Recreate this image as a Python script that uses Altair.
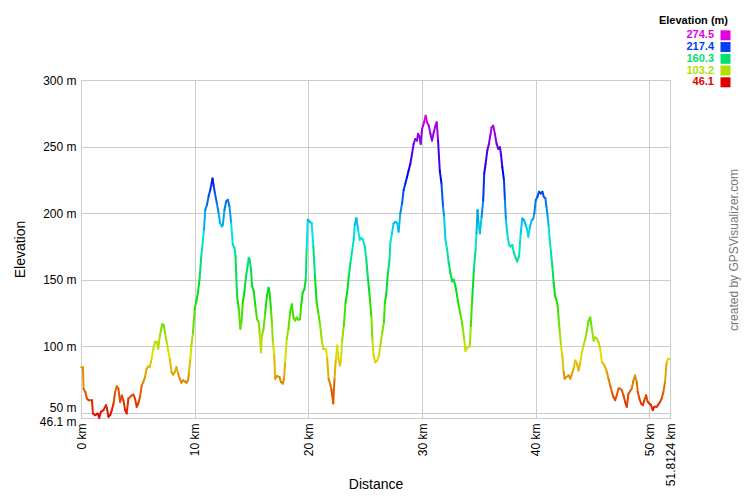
import altair as alt
import pandas as pd

km = [0.0, 0.17, 0.23, 0.38, 0.52, 0.67, 0.96, 1.05, 1.25, 1.46, 1.60, 1.75, 1.98, 2.19, 2.27, 2.42, 2.57, 2.71,
      2.86, 3.00, 3.15, 3.29, 3.44, 3.59, 3.73, 3.88, 4.02, 4.17, 4.46, 4.61, 4.75, 4.90, 5.04, 5.19, 5.34, 5.48,
      5.63, 5.77, 5.92, 6.06, 6.21, 6.36, 6.50, 6.65, 6.79, 6.94, 7.08, 7.17, 7.29, 7.38, 7.52, 7.67, 7.81, 7.96,
      8.10, 8.25, 8.40, 8.54, 8.69, 8.83, 8.98, 9.13, 9.27, 9.42, 9.50, 9.62, 9.71, 9.85, 10.00, 10.15, 10.29,
      10.44, 10.58, 10.73, 10.82, 10.93, 11.08, 11.22, 11.37, 11.49, 11.57, 11.66, 11.78, 11.95, 12.10, 12.24,
      12.39, 12.48, 12.62, 12.77, 12.92, 13.06, 13.21, 13.35, 13.50, 13.59,
      13.73, 13.88, 14.02, 14.11, 14.23, 14.37, 14.52, 14.66, 14.75, 14.84, 14.96, 15.04, 15.19, 15.34, 15.48,
      15.63, 15.71, 15.83, 15.92, 16.06, 16.21, 16.36, 16.50, 16.59, 16.71, 16.79, 16.88, 17.00, 17.08, 17.23,
      17.46, 17.58, 17.76, 17.87, 17.96, 18.10, 18.25, 18.40, 18.54, 18.69, 18.83, 18.98, 19.13, 19.27, 19.36,
      19.50, 19.65, 19.77, 19.85, 19.94, 20.06, 20.29, 20.44, 20.58, 20.73, 20.87, 21.02, 21.17, 21.31, 21.55,
      21.66, 21.78, 21.95, 22.04, 22.19, 22.30, 22.42, 22.54, 22.65, 22.77, 22.86, 22.97, 23.12, 23.27, 23.41,
      23.56, 23.70, 23.85, 23.99, 24.08, 24.23, 24.37, 24.52, 24.66, 24.81, 24.96, 25.10, 25.25, 25.39, 25.54,
      25.63, 25.74, 25.89, 26.06, 26.21, 26.33, 26.50, 26.65, 26.73, 26.85, 27.00, 27.14,
      27.21, 27.35, 27.50, 27.68, 27.82, 27.94, 28.09, 28.24, 28.38, 28.53, 28.68, 28.82, 28.97, 29.12, 29.26,
      29.41, 29.56, 29.65, 29.79, 29.88, 30.00, 30.18, 30.32, 30.44, 30.59, 30.74, 30.88, 31.03, 31.18, 31.29,
      31.41, 31.56, 31.71, 31.85, 31.94, 32.06, 32.21, 32.35, 32.50, 32.65, 32.79, 32.94, 33.09, 33.24, 33.41,
      33.56, 33.71, 33.82, 34.00, 34.21, 34.29, 34.41, 34.56, 34.71, 34.79, 34.88, 34.97, 35.09, 35.24, 35.38,
      35.47, 35.59, 35.74, 35.88, 36.03, 36.12, 36.26, 36.41, 36.56, 36.71, 36.85, 36.94, 37.06, 37.21, 37.29,
      37.38, 37.50, 37.65, 37.79, 37.94, 38.09, 38.24, 38.38, 38.53, 38.68, 38.82, 38.97, 39.12, 39.26, 39.35,
      39.50, 39.65, 39.79, 39.88, 40.00, 40.15, 40.29, 40.44, 40.59,
      40.70, 40.85, 40.94, 41.05, 41.14, 41.23, 41.35, 41.46, 41.58, 41.70, 41.81, 41.93, 42.02, 42.11, 42.22,
      42.34, 42.46, 42.54, 42.69, 42.89, 43.04, 43.19, 43.33, 43.48, 43.63, 43.77, 43.92, 44.06, 44.21, 44.36,
      44.50, 44.65, 44.80, 44.94, 45.09, 45.23, 45.38, 45.53, 45.67, 45.82, 45.96, 46.11, 46.26, 46.40, 46.55,
      46.70, 46.84, 46.99, 47.13, 47.28, 47.43, 47.57, 47.72, 47.87, 48.01, 48.16, 48.30, 48.45, 48.60, 48.74,
      48.89, 48.98, 49.12, 49.27, 49.42, 49.56, 49.71, 49.85, 50.00, 50.15, 50.29, 50.44, 50.64, 50.79, 50.94,
      51.08, 51.23, 51.37, 51.52, 51.64, 51.8124]
elev = [84.3, 84.3, 68.0, 65.6, 60.7, 59.5, 59.5, 49.5, 48.3, 49.5, 46.3, 50.7, 52.0, 55.7, 53.7, 47.0, 48.3, 52.0,
        57.0, 65.6, 70.0, 68.0, 58.2, 63.0, 59.5, 52.0, 49.5, 60.7, 63.0, 63.7, 60.7, 54.5, 57.0, 62.0, 70.6, 73.1,
        76.9, 83.0, 85.0, 84.3, 90.5, 98.0, 103.0, 103.5, 98.0, 108.0, 114.0, 116.7, 115.4, 110.4, 104.0, 96.8,
        90.5, 80.6, 78.6, 80.6, 84.3, 79.5, 75.6, 72.6, 74.4, 73.7, 72.6, 74.4, 80.6, 90.5, 100.5, 110.4, 127.9,
        134.0, 140.3, 151.5, 167.7, 180.0, 187.6, 202.5, 206.2, 212.4, 217.4, 222.4, 226.0, 221.0, 215.0, 207.5,
        200.0, 192.5, 190.0, 191.3, 202.5, 208.7, 210.0, 205.0, 192.5, 176.4, 173.9, 167.7,
        137.8, 127.9, 113.0, 118.0, 132.8, 140.3, 152.7, 160.2, 166.4, 165.0, 157.7, 145.5, 141.5, 130.3, 120.4,
        118.0, 110.4, 95.5, 108.0, 113.0, 125.4, 137.8, 144.0, 140.3, 127.9, 118.0, 103.0, 93.0, 75.6, 77.6,
        76.9, 73.1, 71.9, 76.9, 88.0, 105.5, 113.0, 125.4, 131.6, 121.6, 119.3, 121.6, 119.8, 120.4, 130.3,
        140.3, 142.8, 150.2, 172.6, 195.0, 194.0, 192.5, 175.0, 152.7, 132.8, 125.4, 116.7, 105.5, 98.0, 98.0,
        90.5, 75.6, 70.6, 66.9, 57.0, 75.6, 90.5, 100.5, 90.5, 85.5, 89.0, 104.0, 115.4, 132.8, 140.3,
        152.7, 162.7, 171.4, 180.0, 191.3, 196.3, 187.6, 180.0, 181.3, 180.0, 175.1, 165.0, 150.2, 137.8, 122.9,
        105.5, 93.0, 88.0, 89.3, 93.0, 100.5, 110.4, 118.0, 132.8, 139.0, 155.2, 165.0,
        177.4, 184.8, 192.3, 193.5, 192.3, 186.0, 199.8, 207.2, 217.2, 222.1, 227.1, 232.1, 237.0, 244.5, 252.0,
        255.7, 254.5, 259.5, 257.0, 252.0, 263.2, 268.2, 273.1, 268.2, 265.7, 259.5, 254.5, 260.7, 265.7, 268.2,
        254.5, 232.0, 222.1, 204.7, 197.3, 179.9, 172.4, 162.4, 155.0, 148.8, 150.0, 145.0, 137.6, 130.0, 122.6,
        115.2, 105.3, 96.5, 99.0, 100.3, 115.2, 135.0, 157.5, 172.4, 184.8, 202.3, 192.3, 184.8, 197.3, 209.7,
        229.6, 237.0, 247.0, 252.0, 259.5, 264.4, 265.7, 259.5, 252.0, 248.3, 249.5, 244.5, 234.6, 224.6, 209.7,
        194.8, 184.8, 176.1, 174.9, 176.1, 170.0, 166.2, 163.7, 167.5, 184.8, 196.0, 194.8, 191.0, 187.3, 182.3,
        189.8, 194.8, 196.0, 199.8, 209.7, 212.2, 216.0, 214.7, 216.0,
        212.4, 211.2, 205.0, 197.5, 190.0, 180.0, 170.1, 160.2, 147.8, 137.8, 135.3, 130.3, 120.4, 111.4, 100.5,
        93.0, 80.6, 75.6, 76.9, 78.1, 75.6, 79.4, 83.1, 89.3, 86.8, 81.8, 88.0, 95.5, 100.5, 105.5,
        111.7, 119.2, 121.6, 113.0, 104.2, 106.7, 105.5, 103.0, 98.0, 88.0, 86.8, 84.3, 80.6, 75.6, 70.6,
        65.7, 61.9, 59.5, 63.2, 68.2, 68.2, 66.9, 63.2, 58.2, 54.5, 64.4, 66.2, 68.2, 74.4, 78.1,
        73.1, 65.7, 60.7, 57.0, 55.7, 59.5, 63.2, 58.2, 57.0, 55.7, 52.0, 54.5, 54.5, 56.2, 58.2,
        60.7, 65.7, 73.1, 88.0, 90.5, 90.5]

x_ticks = [0, 10, 20, 30, 40, 50, 51.8124]
y_ticks = [46.1, 50, 100, 150, 200, 250, 300]
legend_values = [274.5, 217.4, 160.3, 103.2, 46.1]
legend_labels = ["274.5", "217.4", "160.3", "103.2", "46.1"]
legend_colors = ["#e00000", "#b0e000", "#00e070", "#0040f0", "#e000e0"]

FONT = "Liberation Sans"

seg = pd.DataFrame({
    "km": km[:-1], "km2": km[1:],
    "m": elev[:-1], "m2": elev[1:],
    "elev": [(a + b) / 2 for a, b in zip(elev[:-1], elev[1:])],
})

cscale = alt.Scale(domain=sorted(legend_values), range=legend_colors, interpolate="hsl")

line = alt.Chart(seg).mark_rule(strokeWidth=2, strokeCap="round").encode(
    x=alt.X("km:Q", scale=alt.Scale(domain=[0, 51.8124], nice=False, zero=False),
            axis=alt.Axis(values=x_ticks, labelExpr="datum.value + ' km'", labelAngle=-90,
                          title="Distance", ticks=False, labelPadding=5, labelOverlap=False,
                          labelFontSize=12, titleFontSize=14, titleFontWeight="normal",
                          titlePadding=-8, gridColor="#cccccc", domainColor="#cccccc",
                          labelColor="#000000", titleColor="#000000", labelFont=FONT, titleFont=FONT)),
    x2="km2:Q",
    y=alt.Y("m:Q", scale=alt.Scale(domain=[46.1, 300], nice=False, zero=False),
            axis=alt.Axis(values=y_ticks, labelExpr="datum.value + ' m'", title="Elevation",
                          ticks=False, labelPadding=5, labelOverlap=False, labelFontSize=12,
                          labelOffset=alt.ExprRef(expr="datum.value == 50 ? -5 : (datum.value < 50 ? 3 : 0)"),
                          titleFontSize=14, titleFontWeight="normal", titlePadding=12,
                          gridColor="#cccccc", domainColor="#cccccc", labelColor="#000000",
                          titleColor="#000000", labelFont=FONT, titleFont=FONT)),
    y2="m2:Q",
    color=alt.Color("elev:Q", scale=cscale, legend=None),
)

leg = pd.DataFrame({"row": list(range(len(legend_values))), "elev": legend_values, "label": legend_labels})
ly = alt.Y("row:Q", scale=alt.Scale(domain=[0, 4], range=[-44.7, 2.3]), axis=None)

leg_text = alt.Chart(leg).mark_text(align="right", baseline="middle", fontSize=11,
                                    fontWeight="bold", font=FONT).encode(
    x=alt.value(633), y=ly, text="label:N",
    color=alt.Color("elev:Q", scale=cscale, legend=None))
leg_sq = alt.Chart(leg).mark_square(size=100, opacity=1, filled=True).encode(
    x=alt.value(644.5), y=ly,
    color=alt.Color("elev:Q", scale=cscale, legend=None))
leg_title = alt.Chart(pd.DataFrame({"t": ["Elevation (m)"]})).mark_text(
    align="right", baseline="middle", fontSize=11, fontWeight="bold", font=FONT, color="#000000"
).encode(x=alt.value(647), y=alt.value(-59), text="t:N")
credit = alt.Chart(pd.DataFrame({"t": ["created by GPSVisualizer.com"]})).mark_text(
    angle=270, align="center", baseline="middle", fontSize=12, font=FONT, color="#777777"
).encode(x=alt.value(653), y=alt.value(170), text="t:N")

chart = alt.layer(line, leg_text, leg_sq, leg_title, credit).resolve_scale(y="independent").properties(
    width=589, height=338,
    autosize=alt.AutoSizeParams(type="none"),
    padding={"left": 73, "top": 72, "right": 72, "bottom": 74},
    background="#ffffff",
).configure_view(stroke="#cccccc")

chart.save("out.html", embed_options={"renderer": "svg", "actions": False})
